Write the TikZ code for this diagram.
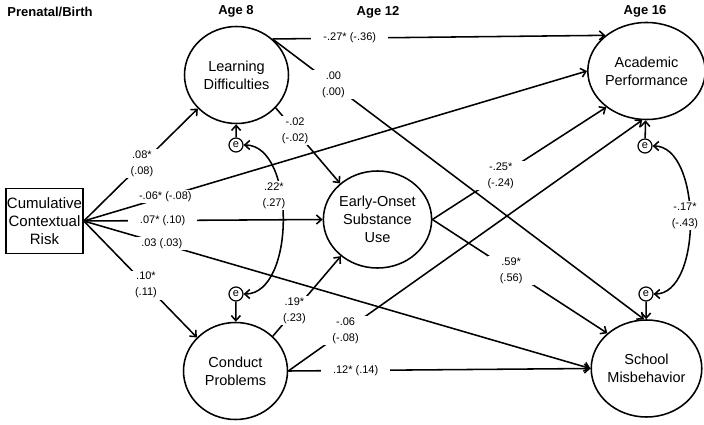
\documentclass[tikz,border=0pt]{standalone}
\usepackage{fontspec}
\setmainfont{Liberation Sans}
\usepackage{tikz}
\usetikzlibrary{arrows.meta,shapes.geometric}

\begin{document}
\begin{tikzpicture}[
  x=1pt, y=-1pt,
  line width=1.55pt,
  >={Straight Barb[length=5pt,width=9pt]},
  var/.style={
    draw,
    ellipse,
    minimum width=104pt,
    minimum height=97pt,
    inner sep=0pt,
    align=center,
    font=\fontsize{14.5}{18}\selectfont
  },
  lbl/.style={
    fill=white,
    inner xsep=12pt,
    inner ysep=1.5pt,
    align=center,
    font=\fontsize{11}{16}\selectfont
  },
  err/.style={
    draw,
    circle,
    line width=1.2pt,
    minimum size=14pt,
    inner sep=0pt,
    font=\fontsize{11}{11}\selectfont
  },
  age/.style={
    font=\bfseries\fontsize{13}{15}\selectfont
  }
]
  \useasboundingbox (0,0) rectangle (704,425);

  % Time points
  \node[age] (tbirth) at (50,12) {Prenatal/Birth};
  \node[age] (tage8) at (236,11) {Age 8};
  \node[age] (tage12) at (378,12) {Age 12};
  \node[age] (tage16) at (645,11) {Age 16};

  % Variables
  \node[draw, minimum width=77pt, minimum height=65pt, inner sep=0pt, align=center,
        font=\fontsize{15}{18}\selectfont] (ccr) at (44.5,221) {Cumulative\\Contextual\\Risk};
  \node[var] (ld) at (236.5,75) {Learning\\Difficulties};
  \node[var] (cp) at (235.5,371) {Conduct\\Problems};
  \node[var] (esu) at (377.5,219.5) {Early-Onset\\Substance\\Use};
  \node[var] (ap) at (646.5,71) {Academic\\Performance};
  \node[var] (sm) at (646.5,368.5) {School\\Misbehavior};

  % Residuals
  \node[err] (eld) at (236,145) {e};
  \node[err] (ecp) at (236,294) {e};
  \node[err] (eap) at (645,146) {e};
  \node[err] (esm) at (646,294) {e};

  % Paths from cumulative risk
  \draw[->] (ccr.east) -- node[lbl, pos=0.51] {.08*\\(.08)} (ld.221);
  \draw[->] (ccr.east) -- node[lbl, pos=0.162] {-.06* (-.08)} (ap.west);
  \draw[->] (ccr.east) -- node[lbl, pos=0.33] {.07* (.10)} (esu.west);
  \draw[->] (ccr.east) -- node[lbl, pos=0.154] {.03 (.03)} (sm.west);
  \draw[->] (ccr.east) -- node[lbl, pos=0.55] {.10*\\(.11)} (cp.139);

  % Paths from age 8
  \draw[->] (ld.45) -- node[lbl, pos=0.232] {-.27* (-.36)} (ap.139);
  \draw[->] (ld.45) -- node[lbl, pos=0.164] {.00\\(.00)} (sm.93);
  \draw[->] (ld.320) -- node[lbl, pos=0.3] {-.02\\(-.02)} (esu.136);
  \draw[->] (cp.43) -- node[lbl, pos=0.317] {.19*\\(.23)} (esu.225);
  \draw[->] (cp.east) -- node[lbl, pos=0.162] {-.06\\(-.08)} (ap.265);
  \draw[->] (cp.east) -- node[lbl, pos=0.223] {.12* (.14)} (sm.west);

  % Paths from age 12
  \draw[->] (esu.east) -- node[lbl, pos=0.393] {-.25*\\(-.24)} (ap.222);
  \draw[->] (esu.east) -- node[lbl, pos=0.45] {.59*\\(.56)} (sm.138);

  % Residual arrows and covariances
  \draw[->] (eld) -- (ld);
  \draw[->] (ecp) -- (cp);
  \draw[->] (eap) -- (ap);
  \draw[->] (esm) -- (sm);
  \draw[<->] (eld.east) to[out=0, in=0, looseness=0.9]
    node[lbl, pos=0.39, xshift=-7pt] {.22*\\(.27)} (ecp.east);
  \draw[<->] (eap.east) to[out=0, in=0, looseness=0.85]
    node[lbl, pos=0.48, xshift=-5pt] {-.17*\\(-.43)} (esm.east);

\end{tikzpicture}
\end{document}
